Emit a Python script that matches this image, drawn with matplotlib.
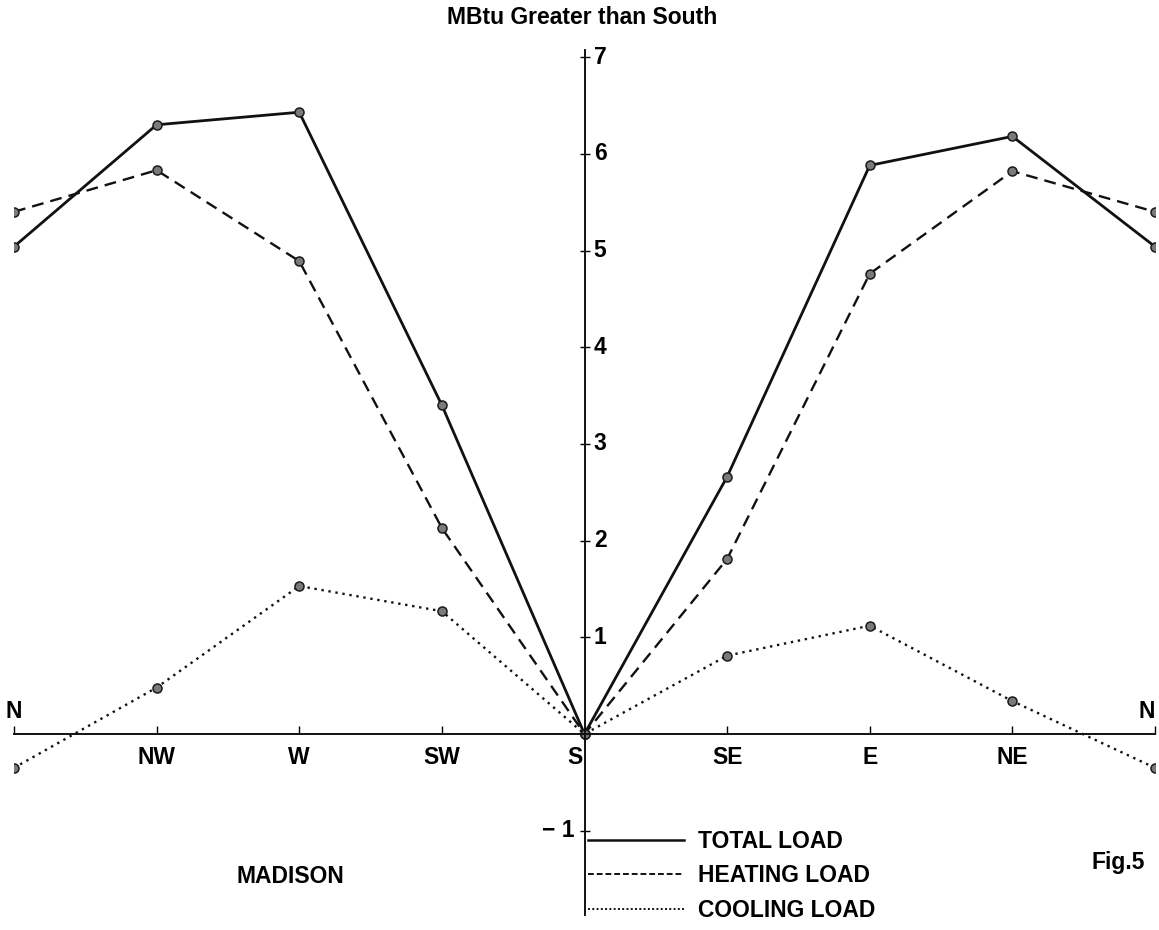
import matplotlib.pyplot as plt
from matplotlib.lines import Line2D

# values (MBtu greater than south facing)
directions = ["N", "NW", "W", "SW", "S", "SE", "E", "NE", "N"]
total_load = [5.04, 6.30, 6.43, 3.40, 0.0, 2.66, 5.88, 6.18, 5.04]
heating_load = [5.40, 5.83, 4.89, 2.13, 0.0, 1.81, 4.76, 5.82, 5.40]
cooling_load = [-0.35, 0.48, 1.53, 1.27, 0.0, 0.81, 1.12, 0.34, -0.35]
ytick_values = [-1, 1, 2, 3, 4, 5, 6, 7]
legend_labels = ["TOTAL LOAD", "HEATING LOAD", "COOLING LOAD"]

plt.rcParams['font.family'] = ['Liberation Sans', 'DejaVu Sans']
plt.rcParams['font.weight'] = 'bold'

W, H = 1159, 930
fig = plt.figure(figsize=(W / 100, H / 100), dpi=100)
ax = fig.add_axes([14 / W, 0, 1141 / W, 1])

unit = 96.7   # pixels per MBtu
zero = 734    # pixel row of the zero line
ax.set_xlim(0, len(directions) - 1)
ax.set_ylim((zero - H) / unit, zero / unit)

xs = list(range(len(directions)))
mk = dict(marker='o', ms=6.5, mfc='#7a7a7a', mec='#1a1a1a', mew=1.1)
ax.plot(xs, total_load, color='#111111', lw=2.0, ls='-', **mk)
ax.plot(xs, heating_load, color='#111111', lw=1.7, ls=(0, (5, 3)), **mk)
ax.plot(xs, cooling_load, color='#111111', lw=1.7, ls=(0, (1, 2)), **mk)

# axes crossing at S / zero
for s in ['top', 'right']:
    ax.spines[s].set_visible(False)
ax.spines['left'].set_position(('data', 4))
ax.spines['bottom'].set_position(('data', 0))
ax.spines['left'].set_bounds((zero - 915) / unit, (zero - 50) / unit)
ax.spines['bottom'].set_bounds(0, 8)
for s in ['left', 'bottom']:
    ax.spines[s].set_linewidth(1.4)
    ax.spines[s].set_color('#111111')

ax.set_xticks(xs)
ax.set_yticks(ytick_values)
ax.tick_params(axis='x', direction='in', length=6, width=1, labelbottom=False)
ax.tick_params(axis='y', direction='inout', length=7, width=1, labelleft=False)

fs = 16.5
# y tick labels
for v in ytick_values:
    if v < 0:
        ax.text(3.93, v, "\u2212 " + str(-v), ha='right', va='center', fontsize=fs)
    else:
        ax.text(4.065, v, str(v), ha='left', va='center', fontsize=fs)

# direction labels
for i, d in enumerate(directions):
    if i == 0:
        ax.text(i, 0.23, d, ha='center', va='center', fontsize=fs)
    elif i == len(directions) - 1:
        ax.text(i, 0.23, d, ha='right', va='center', fontsize=fs)
    elif d == "S":
        ax.text(i - 0.07, -0.24, d, ha='center', va='center', fontsize=fs)
    else:
        ax.text(i, -0.24, d, ha='center', va='center', fontsize=fs)

fig.text(582 / W, 1 - 18 / H, "MBtu Greater than South", ha='center', va='center', fontsize=fs)
fig.text(290 / W, 1 - 876 / H, "MADISON", ha='center', va='center', fontsize=fs)
fig.text(1118 / W, 1 - 862 / H, "Fig.5", ha='center', va='center', fontsize=fs)

handles = [Line2D([], [], color='#111111', lw=1.8, ls='-'),
           Line2D([], [], color='#111111', lw=1.4, ls=(0, (3, 1.5))),
           Line2D([], [], color='#111111', lw=1.4, ls=(0, (1, 1.2)))]
ax.legend(handles, legend_labels, loc='upper left',
          bbox_to_anchor=(588 / W, 1 - 830 / H), bbox_transform=fig.transFigure,
          frameon=False, fontsize=fs, handlelength=4.2, handletextpad=0.6,
          labelspacing=0.5, borderpad=0, borderaxespad=0)

fig.savefig("out.png", dpi=100)
